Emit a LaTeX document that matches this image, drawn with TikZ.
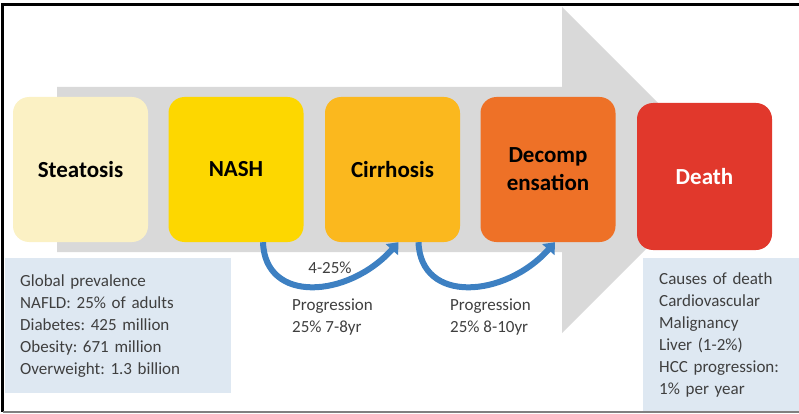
\documentclass[tikz,border=0pt]{standalone}
\usepackage{fontspec}
\setmainfont{Carlito}
\usetikzlibrary{arrows.meta}
\frenchspacing

\definecolor{arrowgray}{HTML}{D9D9D9}
\definecolor{steatosiscol}{HTML}{FBF1C4}
\definecolor{nashcol}{HTML}{FDD700}
\definecolor{cirrhosiscol}{HTML}{FBB81E}
\definecolor{decompcol}{HTML}{EE7127}
\definecolor{deathcol}{HTML}{E1382C}
\definecolor{infoblue}{HTML}{DEE8F2}
\definecolor{infotext}{HTML}{3F3F3F}
\definecolor{progblue}{HTML}{3D80C2}

\begin{document}
\begin{tikzpicture}[x=1pt,y=-1pt,
    stage/.style={rounded corners=16pt, minimum width=135pt, minimum height=145pt,
      inner sep=0pt, align=center, font=\fontsize{23}{28}\selectfont\bfseries},
    infobox/.style={fill=infoblue, anchor=north west, align=left, text=infotext,
      font=\fontsize{17}{22}\selectfont, inner ysep=0pt},
    note/.style={text=infotext, align=left, font=\fontsize{17}{22}\selectfont, inner sep=0pt},
    progarrow/.style={draw=progblue, line width=6pt, -{Triangle[width=16pt,length=10pt]}}]
    \useasboundingbox (0,0) rectangle (799,414);

    \fill[arrowgray] (57,87) -- (562,87) -- (562,7) -- (725,170) --
        (562,333) -- (562,252) -- (57,252) -- cycle;

    \node[infobox, minimum height=135pt, text width=196pt, inner xsep=15pt] (prevalence) at (5,258)
        {Global prevalence\\NAFLD: 25\% of adults\\Diabetes: 425 million\\Obesity: 671 million\\Overweight: 1.3 billion};
    \node[infobox, minimum height=154pt, text width=124pt, inner xsep=16pt] (causes) at (643,258)
        {Causes of death\\Cardiovascular\\Malignancy\\Liver (1-2\%)\\HCC progression:\\1\% per year};

    \node[stage, fill=steatosiscol] (steatosis) at (80.5,169.5) {Steatosis};
    \node[stage, fill=nashcol] (nash) at (236,169.5) {NASH};
    \node[stage, fill=cirrhosiscol] (cirrhosis) at (392.5,169.5) {Cirrhosis};
    \node[stage, fill=decompcol] (decomp) at (548,169.5) {Decomp\\ensation};
    \node[stage, fill=deathcol, text=white, minimum height=147pt] (death) at (704.5,176.5) {Death};

    \draw[progarrow] ([xshift=27pt]nash.south) .. controls +(2,62) and +(-50,56) .. ([xshift=6pt]cirrhosis.south);
    \draw[progarrow] ([xshift=26pt]cirrhosis.south) .. controls +(2,62) and +(-50,56) .. ([xshift=7pt]decomp.south);

    \node[note] (rate) at (330,268) {4-25\%};
    \node[note, anchor=west] (prog1) at (292,317.5) {Progression\\25\% 7-8yr};
    \node[note, anchor=west] (prog2) at (450,317.5) {Progression\\25\% 8-10yr};

    \draw[line width=2.5pt] (799,4.5) -- (2.5,4.5) -- (2.5,412);
    \draw[gray, line width=2pt] (2.5,412) -- (799,412);
\end{tikzpicture}
\end{document}
